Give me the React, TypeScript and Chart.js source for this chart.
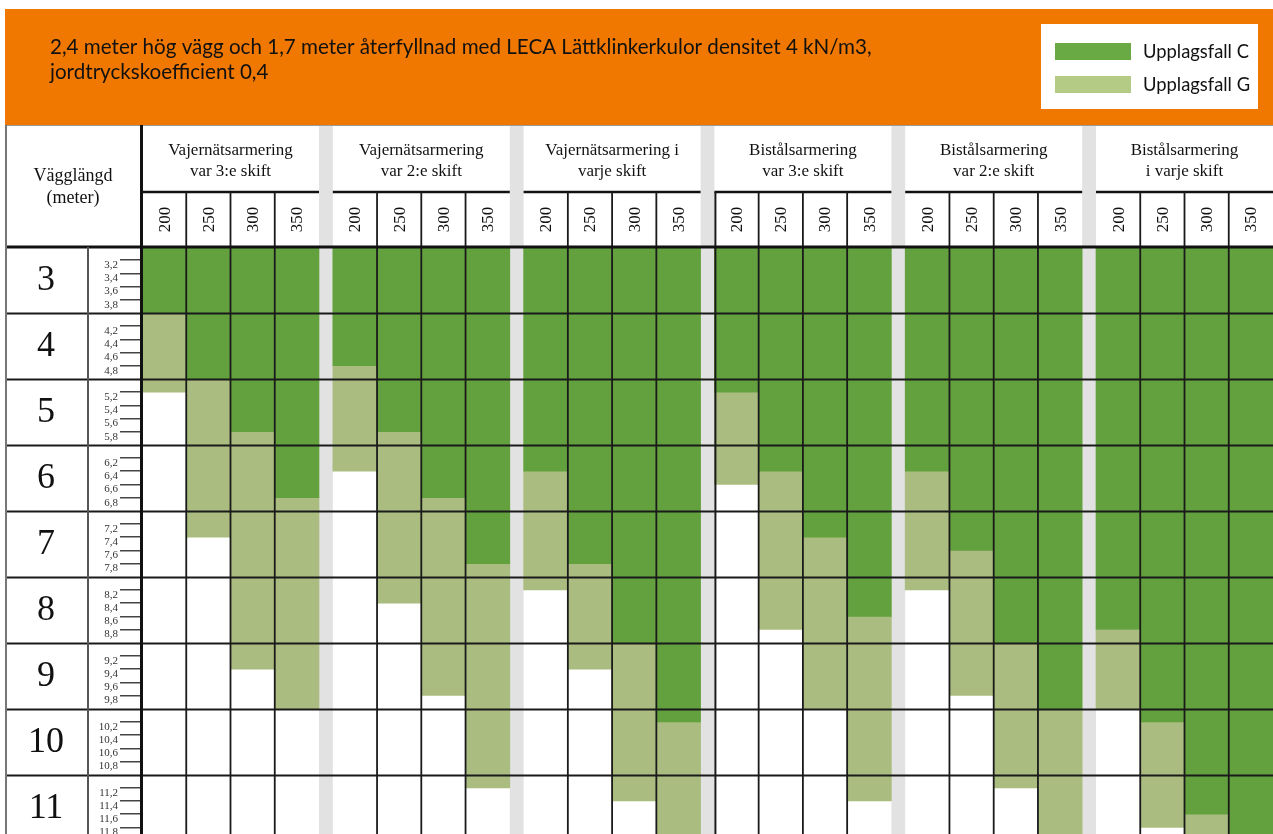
import React, { useEffect, useRef } from 'react';
import { Chart, registerables } from 'chart.js';

Chart.register(...registerables);

// ---------- data ----------
const titleLines = [
  '2,4 meter hög vägg och 1,7 meter återfyllnad med LECA Lättklinkerkulor densitet 4 kN/m3,',
  'jordtryckskoefficient 0,4',
];
const rowHeaderLines = ['Vägglängd', '(meter)'];
const groupTitles = [
  ['Vajernätsarmering', 'var 3:e skift'],
  ['Vajernätsarmering', 'var 2:e skift'],
  ['Vajernätsarmering i', 'varje skift'],
  ['Bistålsarmering', 'var 3:e skift'],
  ['Bistålsarmering', 'var 2:e skift'],
  ['Bistålsarmering', 'i varje skift'],
];
const thicknesses = ['200', '250', '300', '350'];
const wallLengths = [3, 4, 5, 6, 7, 8, 9, 10, 11];
const subSteps = [0.2, 0.4, 0.6, 0.8];
const seriesLabels = ['Upplagsfall C', 'Upplagsfall G'];
// wall length (m) where each case ends, per column (6 groups x 4 thicknesses)
const caseC = [
  4.0, 5.0, 5.8, 6.8,
  4.8, 5.8, 6.8, 7.8,
  6.4, 7.8, 9.0, 10.2,
  5.2, 6.4, 7.4, 8.6,
  6.4, 7.6, 9.0, 10.0,
  8.8, 10.2, 11.6, 12.0,
];
const caseG = [
  5.2, 7.4, 9.4, 10.0,
  6.4, 8.4, 9.8, 11.2,
  8.2, 9.4, 11.4, 12.0,
  6.6, 8.8, 10.0, 11.4,
  8.2, 9.8, 11.2, 12.0,
  10.0, 11.8, 12.0, 12.0,
];

// ---------- style ----------
const W = 1273;
const H = 834;
const GAP = 0.312; // width of grey separator, in column units
const Y_MIN = 3;
const Y_MAX = 11.9;
const COLOR_C = '#63a13f';
const COLOR_G = '#aabc7f';
const LEGEND_C = '#69aa44';
const LEGEND_G = '#b3cb85';
const ORANGE = '#f07800';
const SEP_GREY = '#e1e2e1';
const SERIF = '"Liberation Serif", "DejaVu Serif", serif';
const SANS = 'Lato, "Noto Sans", sans-serif';
const HEADER_TOP = 125;
const HEADER_MID = 192;

const nGroups = groupTitles.length;
const nCols = thicknesses.length;
const colX = (i: number) => Math.floor(i / nCols) * (nCols + GAP) + (i % nCols) + 0.5;
const groupStart = (g: number) => g * (nCols + GAP);
const xMax = nGroups * nCols + (nGroups - 1) * GAP;
const columnXs = caseC.map((_, i) => colX(i));
const subTickValues: number[] = [];
wallLengths.forEach((n) => subSteps.forEach((s) => subTickValues.push(+(n + s).toFixed(1))));
const fmt = (v: number) => v.toFixed(1).replace('.', ',');

function line(ctx: CanvasRenderingContext2D, x1: number, y1: number, x2: number, y2: number, color: string, w: number) {
  ctx.beginPath();
  ctx.strokeStyle = color;
  ctx.lineWidth = w;
  ctx.moveTo(x1, y1);
  ctx.lineTo(x2, y2);
  ctx.stroke();
}

function fitFont(ctx: CanvasRenderingContext2D, text: string, family: string, target: number) {
  ctx.font = `20px ${family}`;
  const w = ctx.measureText(text).width;
  return (20 * target) / w;
}

const tablePlugin = {
  id: 'tablePlugin',
  beforeDraw(chart: any) {
    const { ctx, chartArea: ca, scales } = chart;
    const x = scales.x;
    const y = scales.y;
    ctx.save();
    ctx.fillStyle = '#ffffff';
    ctx.fillRect(0, 0, W, H);

    // banner
    ctx.fillStyle = ORANGE;
    ctx.fillRect(5, 9, W - 5, HEADER_TOP - 9);
    const titleSize = fitFont(ctx, titleLines[0], SANS, 822);
    ctx.font = `${titleSize}px ${SANS}`;
    ctx.fillStyle = '#111';
    ctx.textAlign = 'left';
    ctx.textBaseline = 'middle';
    titleLines.forEach((t, i) => ctx.fillText(t, 50, 47 + i * 25));

    // legend
    ctx.fillStyle = '#ffffff';
    ctx.fillRect(1041, 24, 217, 85);
    const legendColors = [LEGEND_C, LEGEND_G];
    const legSize = fitFont(ctx, seriesLabels[0], SANS, 106);
    seriesLabels.forEach((lab, i) => {
      const cy = 52 + i * 33;
      ctx.fillStyle = legendColors[i];
      ctx.fillRect(1055, cy - 9, 76, 17);
      ctx.fillStyle = '#111';
      ctx.font = `${legSize}px ${SANS}`;
      ctx.textAlign = 'left';
      ctx.textBaseline = 'middle';
      ctx.fillText(lab, 1143, cy);
    });

    // grey separators between groups
    ctx.fillStyle = SEP_GREY;
    for (let g = 1; g < nGroups; g++) {
      const l = x.getPixelForValue(groupStart(g) - GAP);
      const r = x.getPixelForValue(groupStart(g));
      ctx.fillRect(l, HEADER_TOP, r - l, H - HEADER_TOP);
    }

    // header texts
    ctx.fillStyle = '#111';
    ctx.textAlign = 'center';
    ctx.textBaseline = 'middle';
    ctx.font = `18px ${SERIF}`;
    rowHeaderLines.forEach((t, i) => ctx.fillText(t, 73, 176 + i * 22));
    ctx.font = `17px ${SERIF}`;
    groupTitles.forEach((lines, g) => {
      const cx = x.getPixelForValue(groupStart(g) + nCols / 2);
      lines.forEach((t, i) => ctx.fillText(t, cx, 151 + i * 21));
    });
    columnXs.forEach((v, i) => {
      const cx = x.getPixelForValue(v);
      ctx.save();
      ctx.translate(cx, (HEADER_MID + ca.top) / 2);
      ctx.rotate(-Math.PI / 2);
      ctx.fillText(thicknesses[i % nCols], 0, 1);
      ctx.restore();
    });

    // big row numbers
    ctx.font = `36px ${SERIF}`;
    wallLengths.forEach((n) => {
      ctx.fillText(String(n), 46, y.getPixelForValue(n + 0.5) + 1);
    });
    ctx.restore();
  },
  afterDatasetsDraw(chart: any) {
    const { ctx, chartArea: ca, scales } = chart;
    const x = scales.x;
    const y = scales.y;
    ctx.save();
    // row lines
    wallLengths.slice(1).forEach((n) => {
      const py = Math.round(y.getPixelForValue(n)) + 0.5;
      line(ctx, 5, py, W, py, '#1a1a1a', 2);
    });
    // group column lines + group header lines
    for (let g = 0; g < nGroups; g++) {
      const gl = x.getPixelForValue(groupStart(g));
      const gr = x.getPixelForValue(groupStart(g) + nCols);
      line(ctx, gl, HEADER_MID, gr, HEADER_MID, '#111', 2.5);
      for (let c = 1; c < nCols; c++) {
        const px = x.getPixelForValue(groupStart(g) + c);
        line(ctx, px, HEADER_MID, px, H, '#1a1a1a', 1.8);
      }
    }
    const g4 = x.getPixelForValue(groupStart(3)) + 1;
    line(ctx, g4, HEADER_MID, g4, H, '#1a1a1a', 2);
    // header bottom
    line(ctx, 5, ca.top, W, ca.top, '#111', 3);
    // table frame
    line(ctx, 5, HEADER_TOP + 0.5, W, HEADER_TOP + 0.5, '#9a9a9a', 1);
    line(ctx, 6, HEADER_TOP, 6, H, '#777', 2);
    line(ctx, 88, ca.top, 88, H, '#555', 2);
    line(ctx, ca.left - 0.5, HEADER_TOP, ca.left - 0.5, H, '#111', 3);
    ctx.restore();
  },
};

export default function App() {
  const canvasRef = useRef<HTMLCanvasElement | null>(null);

  useEffect(() => {
    document.body.style.margin = '0';
    const canvas = canvasRef.current;
    if (!canvas) return;
    const chart = new Chart(canvas, {
      type: 'bar',
      data: {
        datasets: [
          {
            label: seriesLabels[0],
            data: caseC.map((v, i) => ({ x: columnXs[i], y: [Y_MIN, v] })) as any,
            backgroundColor: COLOR_C,
            borderWidth: 0,
          },
          {
            label: seriesLabels[1],
            data: caseG.map((v, i) => ({ x: columnXs[i], y: [caseC[i], v] })) as any,
            backgroundColor: COLOR_G,
            borderWidth: 0,
          },
        ],
      },
      options: {
        responsive: false,
        animation: false,
        devicePixelRatio: 1,
        layout: { padding: { top: 247, left: 0, right: 0, bottom: 0 } },
        datasets: { bar: { grouped: false, barPercentage: 1, categoryPercentage: 1 } } as any,
        plugins: {
          legend: { display: false },
          tooltip: { enabled: false },
          title: { display: false },
        },
        scales: {
          x: {
            type: 'linear',
            display: false,
            offset: false,
            min: 0,
            max: xMax,
            afterBuildTicks: (s: any) => {
              s.ticks = columnXs.map((v) => ({ value: v }));
            },
          },
          y: {
            type: 'linear',
            reverse: true,
            min: Y_MIN,
            max: Y_MAX,
            afterBuildTicks: (s: any) => {
              s.ticks = subTickValues.map((v) => ({ value: v }));
            },
            afterFit: (s: any) => {
              s.width = 142;
              s.paddingTop = 0;
              s.paddingBottom = 0;
            },
            border: { display: false },
            grid: {
              drawOnChartArea: false,
              drawTicks: true,
              tickLength: 22,
              color: '#444',
              lineWidth: 1.5,
            },
            ticks: {
              padding: 2,
              labelOffset: 5,
              color: '#333',
              font: { family: SERIF, size: 11 },
              callback: (v: any) => fmt(Number(v)),
            },
          },
        },
      },
      plugins: [tablePlugin],
    });
    return () => chart.destroy();
  }, []);

  return (
    <div style={{ width: W, height: H }}>
      <canvas ref={canvasRef} width={W} height={H} style={{ display: 'block' }} />
    </div>
  );
}
